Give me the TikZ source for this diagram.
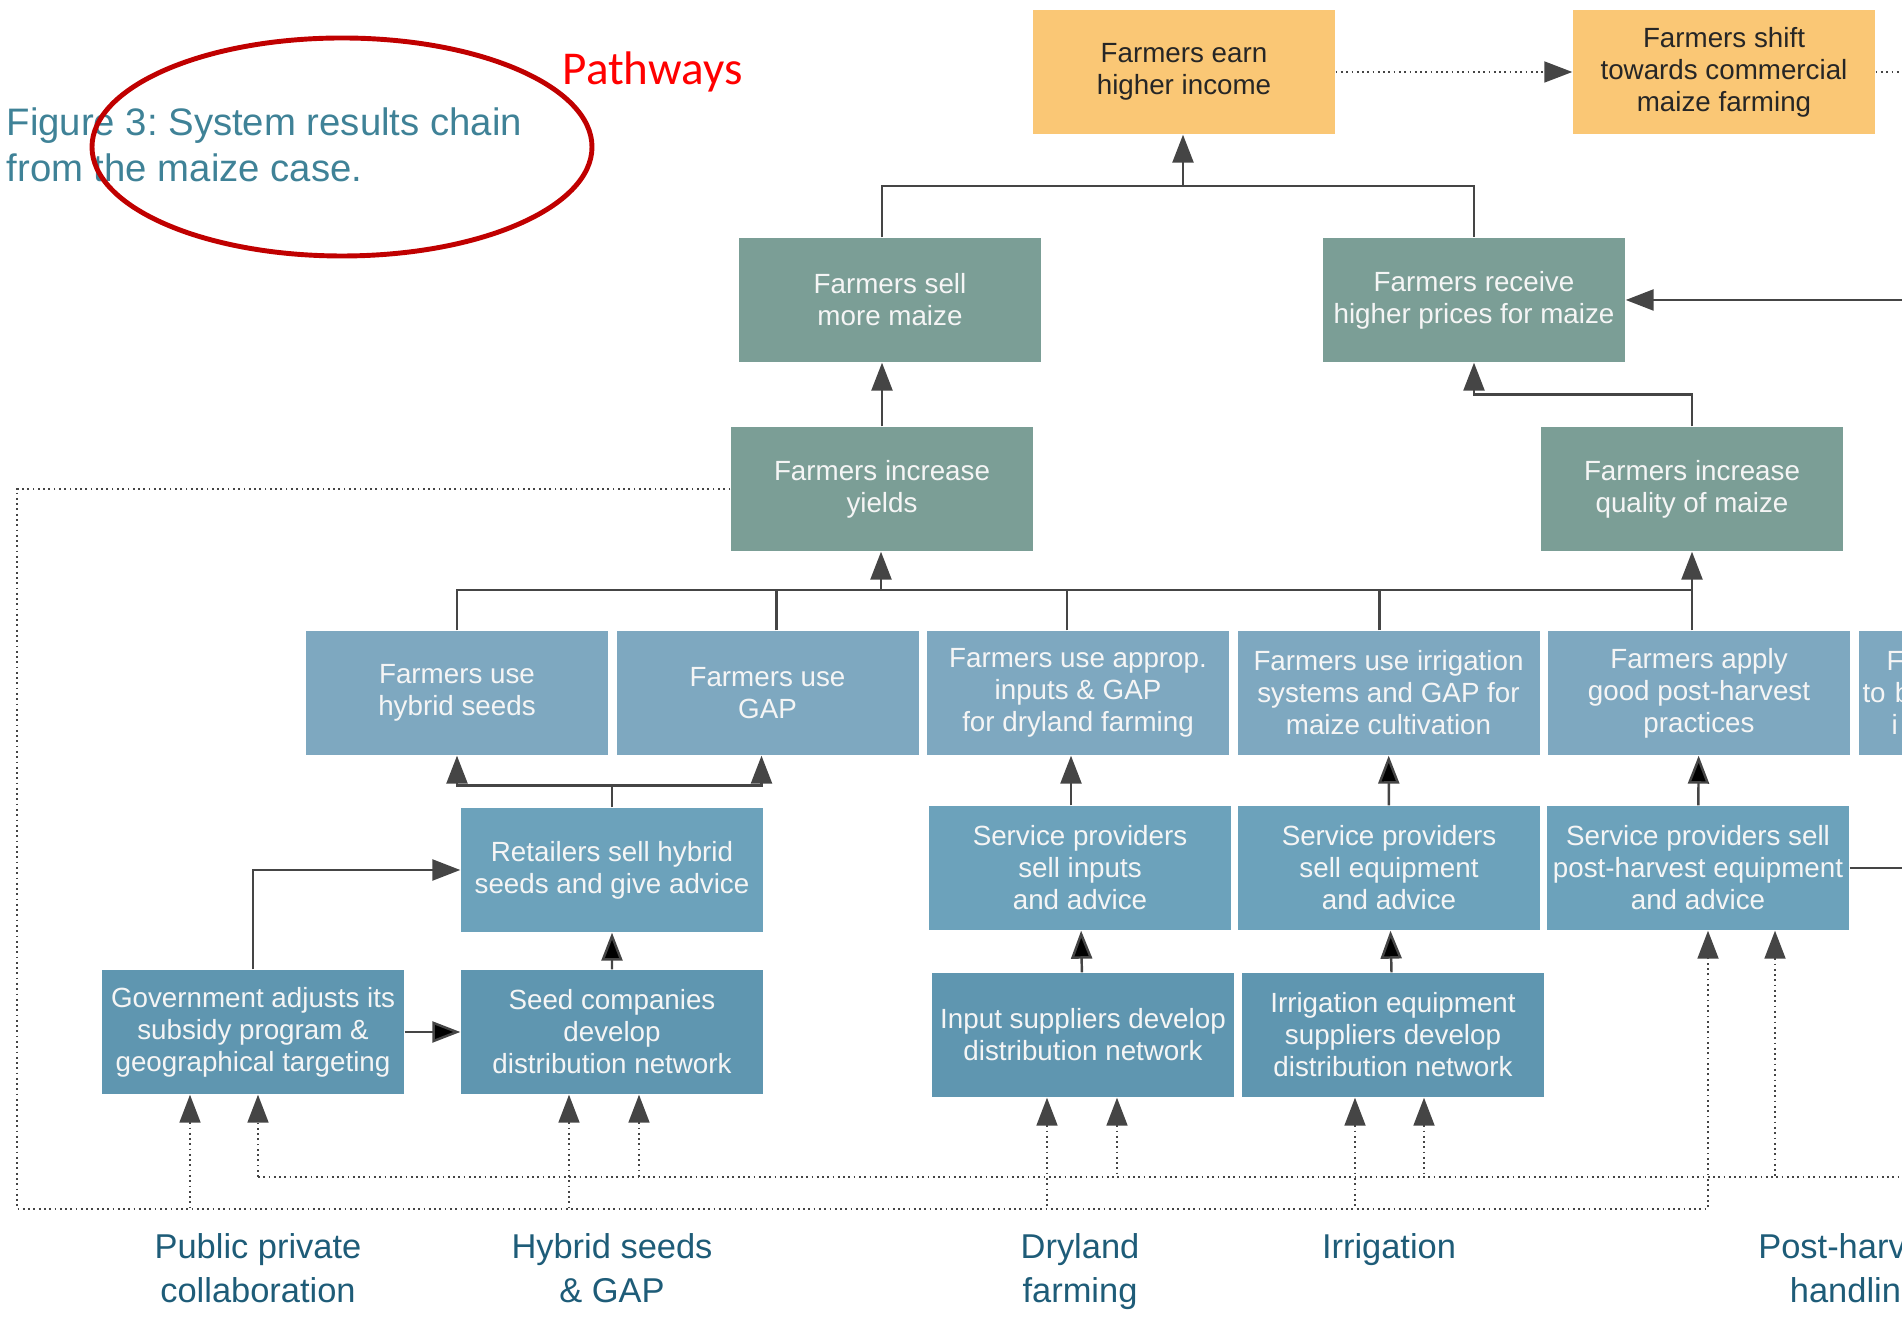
\documentclass[tikz,border=0pt]{standalone}
\usepackage{fontspec}
\setmainfont{Liberation Sans}
\newfontfamily\notefont{Carlito}
\usepackage{tikz}
\usetikzlibrary{
        arrows.meta,
        positioning,
        shapes.geometric
    }
\definecolor{incomeorange}{HTML}{FAC775}
\definecolor{outcomegreen}{HTML}{7B9E96}
\definecolor{usageblue}{HTML}{7EA8C0}
\definecolor{serviceblue}{HTML}{6CA2BB}
\definecolor{supplyblue}{HTML}{5F96B0}
\definecolor{linegrey}{HTML}{454545}
\definecolor{captionteal}{HTML}{3F8297}
\definecolor{labelteal}{HTML}{1E5C78}
\definecolor{ringred}{HTML}{C00000}
\tikzset{>={Triangle[width=2.1mm,length=2.8mm]},auto,node distance=3.105cm}
\tikzset{box/.style={rectangle,minimum width=3.02cm,minimum height=1.24cm,inner sep=0.5pt,
        align=center,text=white!96!black,font=\fontsize{7.9}{9.1}\selectfont}}
\tikzset{income/.style={box,fill=incomeorange,text=black!85}}
\tikzset{outcome/.style={box,fill=outcomegreen}}
\tikzset{usage/.style={box,fill=usageblue}}
\tikzset{service/.style={box,fill=serviceblue}}
\tikzset{supply/.style={box,fill=supplyblue}}
\tikzset{link/.style={draw=linegrey,line width=0.7pt}}
\tikzset{dotlink/.style={draw=linegrey,line width=0.5pt,densely dotted}}
\tikzset{pathway/.style={align=center,text=labelteal,inner sep=0pt,anchor=north,
        font=\fontsize{9.8}{12.5}\selectfont}}

\begin{document}
\begin{tikzpicture}
            \useasboundingbox (0,0) rectangle (19.02,13.19);
            % caption with the hand-drawn ring
            \node[anchor=north west,inner sep=0pt,align=left,text=captionteal,
                  font=\fontsize{10.9}{13.2}\selectfont\frenchspacing] (caption) at (0.06,12.12)
                  {Figure 3: System results chain\\from the maize case.};
            \draw[ringred,line width=1.4pt] (3.42,11.72) ellipse [x radius=2.5, y radius=1.09];
            \node[anchor=base west,inner sep=0pt,text=red,font=\notefont\fontsize{13.4}{16}\selectfont]
                  (pathways) at (5.62,12.34) {Pathways};
            % results
            \node[income] (earn) at (11.84,12.47) {Farmers earn\\higher income};
            \node[income] (shift) [node distance=5.40cm,right of=earn] {Farmers shift\\towards commercial\\maize farming};
            \node[outcome] (sell) at (8.90,10.19) {Farmers sell\\more maize};
            \node[outcome] (receive) at (14.74,10.19) {Farmers receive\\higher prices for maize};
            \node[outcome] (yields) at (8.82,8.30) {Farmers increase\\yields};
            \node[outcome] (quality) at (16.92,8.30) {Farmers increase\\quality of maize};
            % farmer practices
            \node[usage] (hybrid) at (4.57,6.26) {Farmers use\\hybrid seeds};
            \node[usage] (gap) [right of=hybrid] {Farmers use\\GAP};
            \node[usage] (dryland) [right of=gap] {Farmers use approp.\\inputs \& GAP\\for dryland farming};
            \node[usage] (irrigate) [right of=dryland] {Farmers use irrigation\\systems and GAP for\\maize cultivation};
            \node[usage] (harvest) [right of=irrigate] {Farmers apply\\good post-harvest\\practices};
            \node[usage,text width=2.94cm,align=left] (store) [right of=harvest]
                  {\hspace*{2.4mm}F\\to b\\\hspace*{2.9mm}i};
            % market actors
            \node[service] (retail) at (6.12,4.49) {Retailers sell hybrid\\seeds and give advice};
            \node[service] (spinputs) at (10.80,4.51) {Service providers\\sell inputs\\and advice};
            \node[service] (spequip) [node distance=3.09cm,right of=spinputs] {Service providers\\sell equipment\\and advice};
            \node[service] (sppost) [node distance=3.09cm,right of=spequip] {Service providers sell\\post-harvest equipment\\and advice};
            \node[supply] (gov) at (2.53,2.87) {Government adjusts its\\subsidy program \&\\geographical targeting};
            \node[supply] (seedco) [node distance=3.59cm,right of=gov] {Seed companies\\develop\\distribution network};
            \node[supply] (inputsup) at (10.83,2.84) {Input suppliers develop\\distribution network};
            \node[supply] (irrsup) [node distance=3.10cm,right of=inputsup] {Irrigation equipment\\suppliers develop\\distribution network};
            % pathways
            \node[pathway] (ppc) at (2.58,0.86) {Public private\\collaboration};
            \node[pathway] (hsg) at (6.12,0.86) {Hybrid seeds\\\& GAP};
            \node[pathway] (dry) at (10.80,0.86) {Dryland\\farming};
            \node[pathway] (irr) at (13.89,0.86) {Irrigation};
            \node[pathway] (phh) at (18.55,0.86) {Post-harvest\\handling};
            % junctions and loose ends
            \coordinate (hub) at (11.83,11.33);
            \coordinate (bar) at (8.81,7.29);
            \coordinate (offright) at (19.02,10.19);
            \coordinate (lowrail) at (0.17,1.10);
            \coordinate (highrail) at (2.58,1.42);
            % solid links
            \draw[link] (sell.north -| yields) |- (hub) -| (receive.north);
            \draw[->,link] (hub) -- (hub |- earn.south);
            \draw[->,link] (quality.north) -- ++(0,0.32) -| (receive.south);
            \draw[->,link] (offright) -- (receive);
            \draw[->,link] (yields) -- (yields |- sell.south);
            \draw[->,link] (hybrid.north) |- (bar) -- (bar -| quality) -- (quality.south);
            \draw[link] ([xshift=0.9mm]gap.north) -- ++(0,0.41);
            \draw[link] ([xshift=-1.1mm]dryland.north) -- ++(0,0.41);
            \draw[link] ([xshift=-0.9mm]irrigate.north) -- ++(0,0.41);
            \draw[link] (harvest.north -| quality) -- (bar -| quality);
            \draw[->,link] (bar) -- (bar |- yields.south);
            \draw[link] (retail.north) -- ++(0,0.22) coordinate (fork);
            \draw[->,link] (fork) -| (hybrid.south);
            \draw[->,link] (fork) -| ([xshift=-0.6mm]gap.south);
            \draw[->,link] (gov.north) |- (retail.west);
            \draw[link] (sppost.east) -- (sppost.east -| offright);
            \path[->,link]
                (gov)      edge (seedco)
                (seedco)   edge (retail)
                (inputsup) edge (spinputs)
                (spequip)  edge (irrigate)
                (irrsup)   edge (spequip)
                (sppost)   edge (harvest)
            ;
            \draw[->,link] ([xshift=-0.9mm]spinputs.north) -- ([xshift=-0.9mm]spinputs.north |- dryland.south);
            % dotted links
            \draw[->,dotlink] (earn) -- (shift);
            \draw[dotlink] (shift.east) -- (shift.east -| offright);
            \draw[->,dotlink] (yields.west) -| (lowrail) -| ([xshift=1mm]sppost.south);
            \draw[dotlink] (highrail) -- (highrail -| offright);
            \draw[->,dotlink] (highrail) -- (highrail |- gov.south);
            \draw[<-,dotlink] ([xshift=-6.3mm]gov.south) coordinate (g1) -- (g1 |- lowrail);
            \draw[<-,dotlink] ([xshift=-4.3mm]seedco.south) coordinate (s1) -- (s1 |- lowrail);
            \draw[<-,dotlink] ([xshift=2.7mm]seedco.south) coordinate (s2) -- (s2 |- highrail);
            \draw[<-,dotlink] ([xshift=-3.6mm]inputsup.south) coordinate (i1) -- (i1 |- lowrail);
            \draw[<-,dotlink] ([xshift=3.4mm]inputsup.south) coordinate (i2) -- (i2 |- highrail);
            \draw[<-,dotlink] ([xshift=-3.8mm]irrsup.south) coordinate (r1) -- (r1 |- lowrail);
            \draw[<-,dotlink] ([xshift=3.1mm]irrsup.south) coordinate (r2) -- (r2 |- highrail);
            \draw[<-,dotlink] ([xshift=7.7mm]sppost.south) coordinate (p1) -- (p1 |- highrail);
        \end{tikzpicture}
\end{document}
